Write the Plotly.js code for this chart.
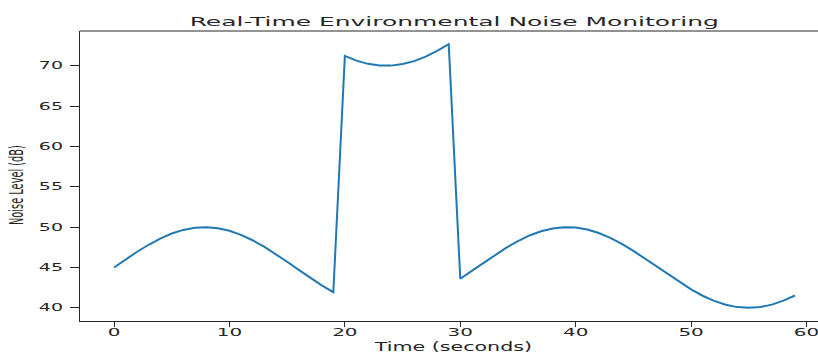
<!DOCTYPE html>
<html><head><meta charset="utf-8">
<script src="https://cdn.plot.ly/plotly-3.0.1.min.js"></script>
<style>html,body{margin:0;padding:0;overflow:hidden;background:#fff;width:818px;height:354px}#chart{width:840px;height:354px}</style>
</head><body><div id="chart"></div>
<script>
const timeSeconds = [0,1,2,3,4,5,6,7,8,9,10,11,12,13,14,15,16,17,18,19,20,21,22,23,24,25,26,27,28,29,30,31,32,33,34,35,36,37,38,39,40,41,42,43,44,45,46,47,48,49,50,51,52,53,54,55,56,57,58,59];
const noiseDb = [45.00,45.99,46.95,47.82,48.59,49.21,49.66,49.93,50.00,49.87,49.55,49.04,48.38,47.58,46.67,45.71,44.71,43.72,42.79,41.94,
71.22,70.64,70.24,70.03,70.02,70.21,70.58,71.14,71.84,72.68,
43.60,44.58,45.58,46.56,47.47,48.28,48.97,49.49,49.84,49.99,49.95,49.70,49.27,48.67,47.92,47.06,46.11,45.12,44.13,43.17,42.28,41.50,40.86,40.39,40.09,40.00,40.10,40.40,40.89,41.53];
const xTicks = [0,10,20,30,40,50,60];
const yTicks = [40,45,50,55,60,65,70];
const ink = '#262626';

// The reference image is stretched horizontally; this re-fits text boxes to it.
function fit(el, o) {
  const r = el.getBoundingClientRect();
  const m = el.parentNode.getScreenCTM();
  let sx = o.sx || 1, sy = o.sy || 1;
  if (o.width) sx = o.width / r.width;
  if (o.height) sy = o.height / r.height;
  let px, tx, py, ty;
  if (o.left != null) { px = r.left; tx = o.left; }
  else if (o.right != null) { px = r.right; tx = o.right; }
  else if (o.cx != null) { px = (r.left + r.right) / 2; tx = o.cx; }
  else { px = (r.left + r.right) / 2; tx = px; }
  if (o.cy != null) { py = (r.top + r.bottom) / 2; ty = o.cy; }
  else { py = (r.top + r.bottom) / 2; ty = py; }
  const lpx = (px - m.e) / m.a, ltx = (tx - m.e) / m.a;
  const lpy = (py - m.f) / m.d, lty = (ty - m.f) / m.d;
  const old = el.getAttribute('transform') || '';
  el.setAttribute('transform', `translate(${ltx},${lty}) scale(${sx},${sy}) translate(${-lpx},${-lpy}) ${old}`);
}

Plotly.newPlot('chart', [{
  x: timeSeconds, y: noiseDb, type: 'scatter', mode: 'lines',
  line: {color: '#1f77b4', width: 2}, hoverinfo: 'none'
}], {
  width: 840, height: 354,
  margin: {l: 80, r: 11, t: 31, b: 33},
  paper_bgcolor: '#fff', plot_bgcolor: '#fff',
  showlegend: false,
  title: {text: 'Real-Time Environmental Noise Monitoring', font: {family: 'DejaVu Sans', size: 12.5, color: ink}, x: 0.54, xanchor: 'center', y: 0.95, yanchor: 'bottom'},
  xaxis: {range: [-2.95, 61.95], tickvals: xTicks, ticks: 'outside', ticklen: 5, tickwidth: 1, tickcolor: ink,
    showgrid: false, zeroline: false, showline: true, linecolor: ink, linewidth: 1,
    tickfont: {family: 'DejaVu Sans', size: 10.5, color: ink},
    title: {text: 'Time (seconds)', font: {family: 'DejaVu Sans', size: 12, color: ink}, standoff: 2}},
  yaxis: {range: [38.37, 74.31], tickvals: yTicks, ticks: 'outside', ticklen: 9, tickwidth: 1, tickcolor: ink,
    showgrid: false, zeroline: false, showline: true, linecolor: ink, linewidth: 1,
    tickfont: {family: 'DejaVu Sans', size: 10, color: ink},
    title: {text: 'Noise Level (dB)', font: {family: 'DejaVu Sans', size: 10, color: ink}, standoff: 8}},
  shapes: [{type: 'line', xref: 'paper', yref: 'paper', x0: 0, x1: 1, y0: 1, y1: 1, line: {color: ink, width: 1}}]
}, {staticPlot: true}).then(gd => {
  const q = s => Array.from(gd.querySelectorAll(s));
  q('.gtitle').forEach(el => fit(el, {left: 189.5, width: 529.5, cy: 21.3}));
  q('.xtick text').forEach(el => fit(el, {sx: 1.9, cy: 332.5}));
  q('.ytick text').forEach(el => fit(el, {sx: 1.9, right: 63}));
  q('.xtitle').forEach(el => fit(el, {left: 373, width: 159, cy: 347.3}));
  q('.ytitle').forEach(el => fit(el, {sx: 1.95, cx: 16.5, height: 80, cy: 185}));
});
</script></body></html>
